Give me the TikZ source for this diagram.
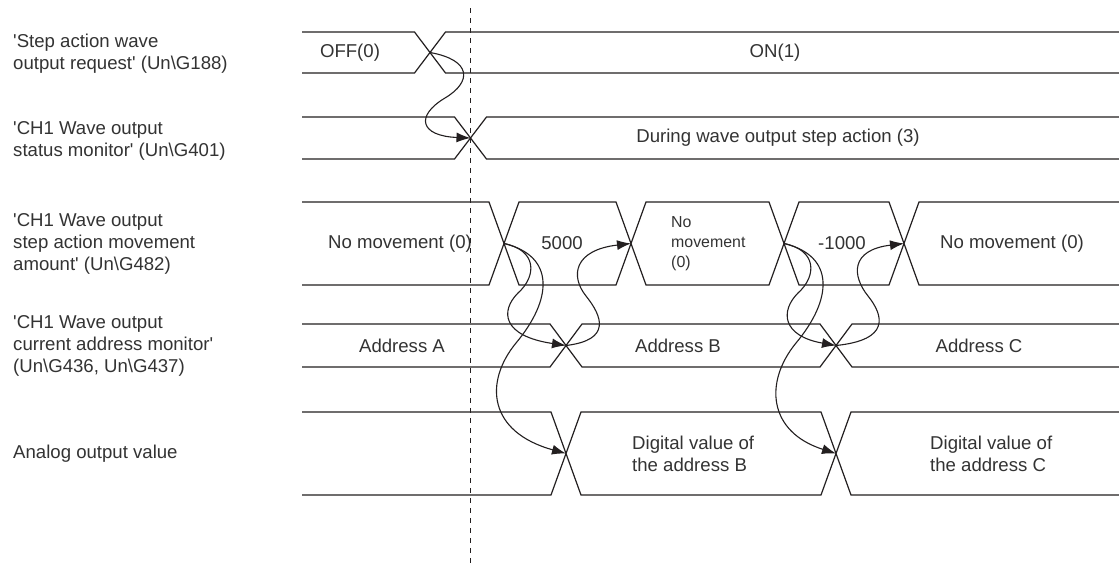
\documentclass[tikz,border=0pt]{standalone}
\usepackage{fontspec}
\setmainfont{Liberation Sans}
\usetikzlibrary{arrows.meta}
\definecolor{ink}{HTML}{231F20}
\definecolor{txt}{HTML}{333333}
\newcommand{\sq}{\textquotesingle}
\tikzset{
  sig/.style={draw=ink, line width=1.2pt, line join=miter},
  lbl/.style={text=txt, font=\fontsize{18.6}{22}\selectfont, inner sep=0pt},
  rowlbl/.style={lbl, anchor=west, align=left},
  smalllbl/.style={text=txt, font=\fontsize{15.9}{20}\selectfont, inner sep=0pt, anchor=west, align=left},
  cause/.style={draw=ink, line width=1.1pt, -{Latex[length=14pt,width=10pt]}},
  marker/.style={draw=ink, line width=1pt, dash pattern=on 5pt off 5pt}
}
\begin{document}
\begin{tikzpicture}[x=1pt,y=-1pt]
\useasboundingbox (0,0) rectangle (1119,565);
\fill[white] (0,0) rectangle (1119,565);

% dashed time marker
\coordinate (mtop) at (470,8);
\coordinate (mbot) at (470,565);
\draw[marker] (mtop) -- (mbot);

% row labels
\node[rowlbl] (l1) at (13,53.5) {\sq Step action wave\\output request\sq\ (Un\textbackslash G188)};
\node[rowlbl] (l2) at (13,141) {\sq CH1 Wave output\\status monitor\sq\ (Un\textbackslash G401)};
\node[rowlbl] (l3) at (13,243.5) {\sq CH1 Wave output\\step action movement\\amount\sq\ (Un\textbackslash G482)};
\node[rowlbl] (l4) at (13,345.5) {\sq CH1 Wave output\\current address monitor\sq\\(Un\textbackslash G436, Un\textbackslash G437)};
\node[rowlbl] (l5) at (13,453.5) {Analog output value};

% row 1
\draw[sig] (302,32)--(414.5,32)--(445.5,73)--(1119,73);
\draw[sig] (302,73)--(414.5,73)--(445.5,32)--(1119,32);
\coordinate (x1) at (430,52.5);
\node[lbl] (off) at (350,52.5) {OFF(0)};
\node[lbl] (on) at (775,52.5) {ON(1)};

% row 2
\draw[sig] (302,117)--(454.5,117)--(486.5,159)--(1119,159);
\draw[sig] (302,159)--(454.5,159)--(486.5,117)--(1119,117);
\coordinate (x2) at (470.5,138);
\node[lbl] (during) at (778,138) {During wave output step action (3)};

% row 3
\draw[sig] (302,202)--(489,202)--(519,285)--(616,285)--(646,202)--(769,202)--(799,285)--(889,285)--(919,202)--(1119,202);
\draw[sig] (302,285)--(489,285)--(519,202)--(616,202)--(646,285)--(769,285)--(799,202)--(889,202)--(919,285)--(1119,285);
\coordinate (m1) at (504,243.5);
\coordinate (m2) at (631,243.5);
\coordinate (m3) at (784,243.5);
\coordinate (m4) at (904,243.5);
\node[lbl] (nm0) at (400,243.5) {No movement (0)};
\node[lbl] (v5000) at (562,243.5) {5000};
\node[smalllbl] (nm1) at (671,243.5) {No\\movement\\(0)};
\node[lbl] (vm1000) at (842,243.5) {-1000};
\node[lbl] (nm2) at (1012,243.5) {No movement (0)};

% row 4
\draw[sig] (302,324)--(550,324)--(582,367)--(820,367)--(852,324)--(1119,324);
\draw[sig] (302,367)--(550,367)--(582,324)--(820,324)--(852,367)--(1119,367);
\coordinate (a1) at (566,345.5);
\coordinate (a2) at (836,345.5);
\node[lbl] (adA) at (402,345.5) {Address A};
\node[lbl] (adB) at (678,345.5) {Address B};
\node[lbl] (adC) at (979,345.5) {Address C};

% row 5
\draw[sig] (302,412)--(551,412)--(581,495)--(821,495)--(851,412)--(1119,412);
\draw[sig] (302,495)--(551,495)--(581,412)--(821,412)--(851,495)--(1119,495);
\coordinate (d1) at (566,453.5);
\coordinate (d2) at (836,453.5);
\node[rowlbl] (dvB) at (632,453.5) {Digital value of\\the address B};
\node[rowlbl] (dvC) at (930,453.5) {Digital value of\\the address C};

% cause-effect arrows
\draw[cause] (x1) .. controls (472,60) and (472,82) .. (445,98)
                   .. controls (415,116) and (420,136) .. (x2);

\draw[cause] (m1) .. controls (537,250) and (537,276) .. (518,293)
                   .. controls (500,311) and (502,336) .. (a1);
\draw[cause] (m1) .. controls (556,256) and (552,300) .. (516,343)
                   .. controls (484,382) and (488,432) .. (d1);
\draw[cause] (a1) .. controls (612,340) and (602,316) .. (586,296)
                   .. controls (570,276) and (574,250) .. (m2);

\draw[cause] (m3) .. controls (817,250) and (817,276) .. (798,293)
                   .. controls (780,311) and (782,336) .. (a2);
\draw[cause] (m3) .. controls (836,256) and (832,300) .. (796,343)
                   .. controls (764,382) and (768,432) .. (d2);
\draw[cause] (a2) .. controls (890,340) and (884,316) .. (868,296)
                   .. controls (852,276) and (850,250) .. (m4);
\end{tikzpicture}
\end{document}
